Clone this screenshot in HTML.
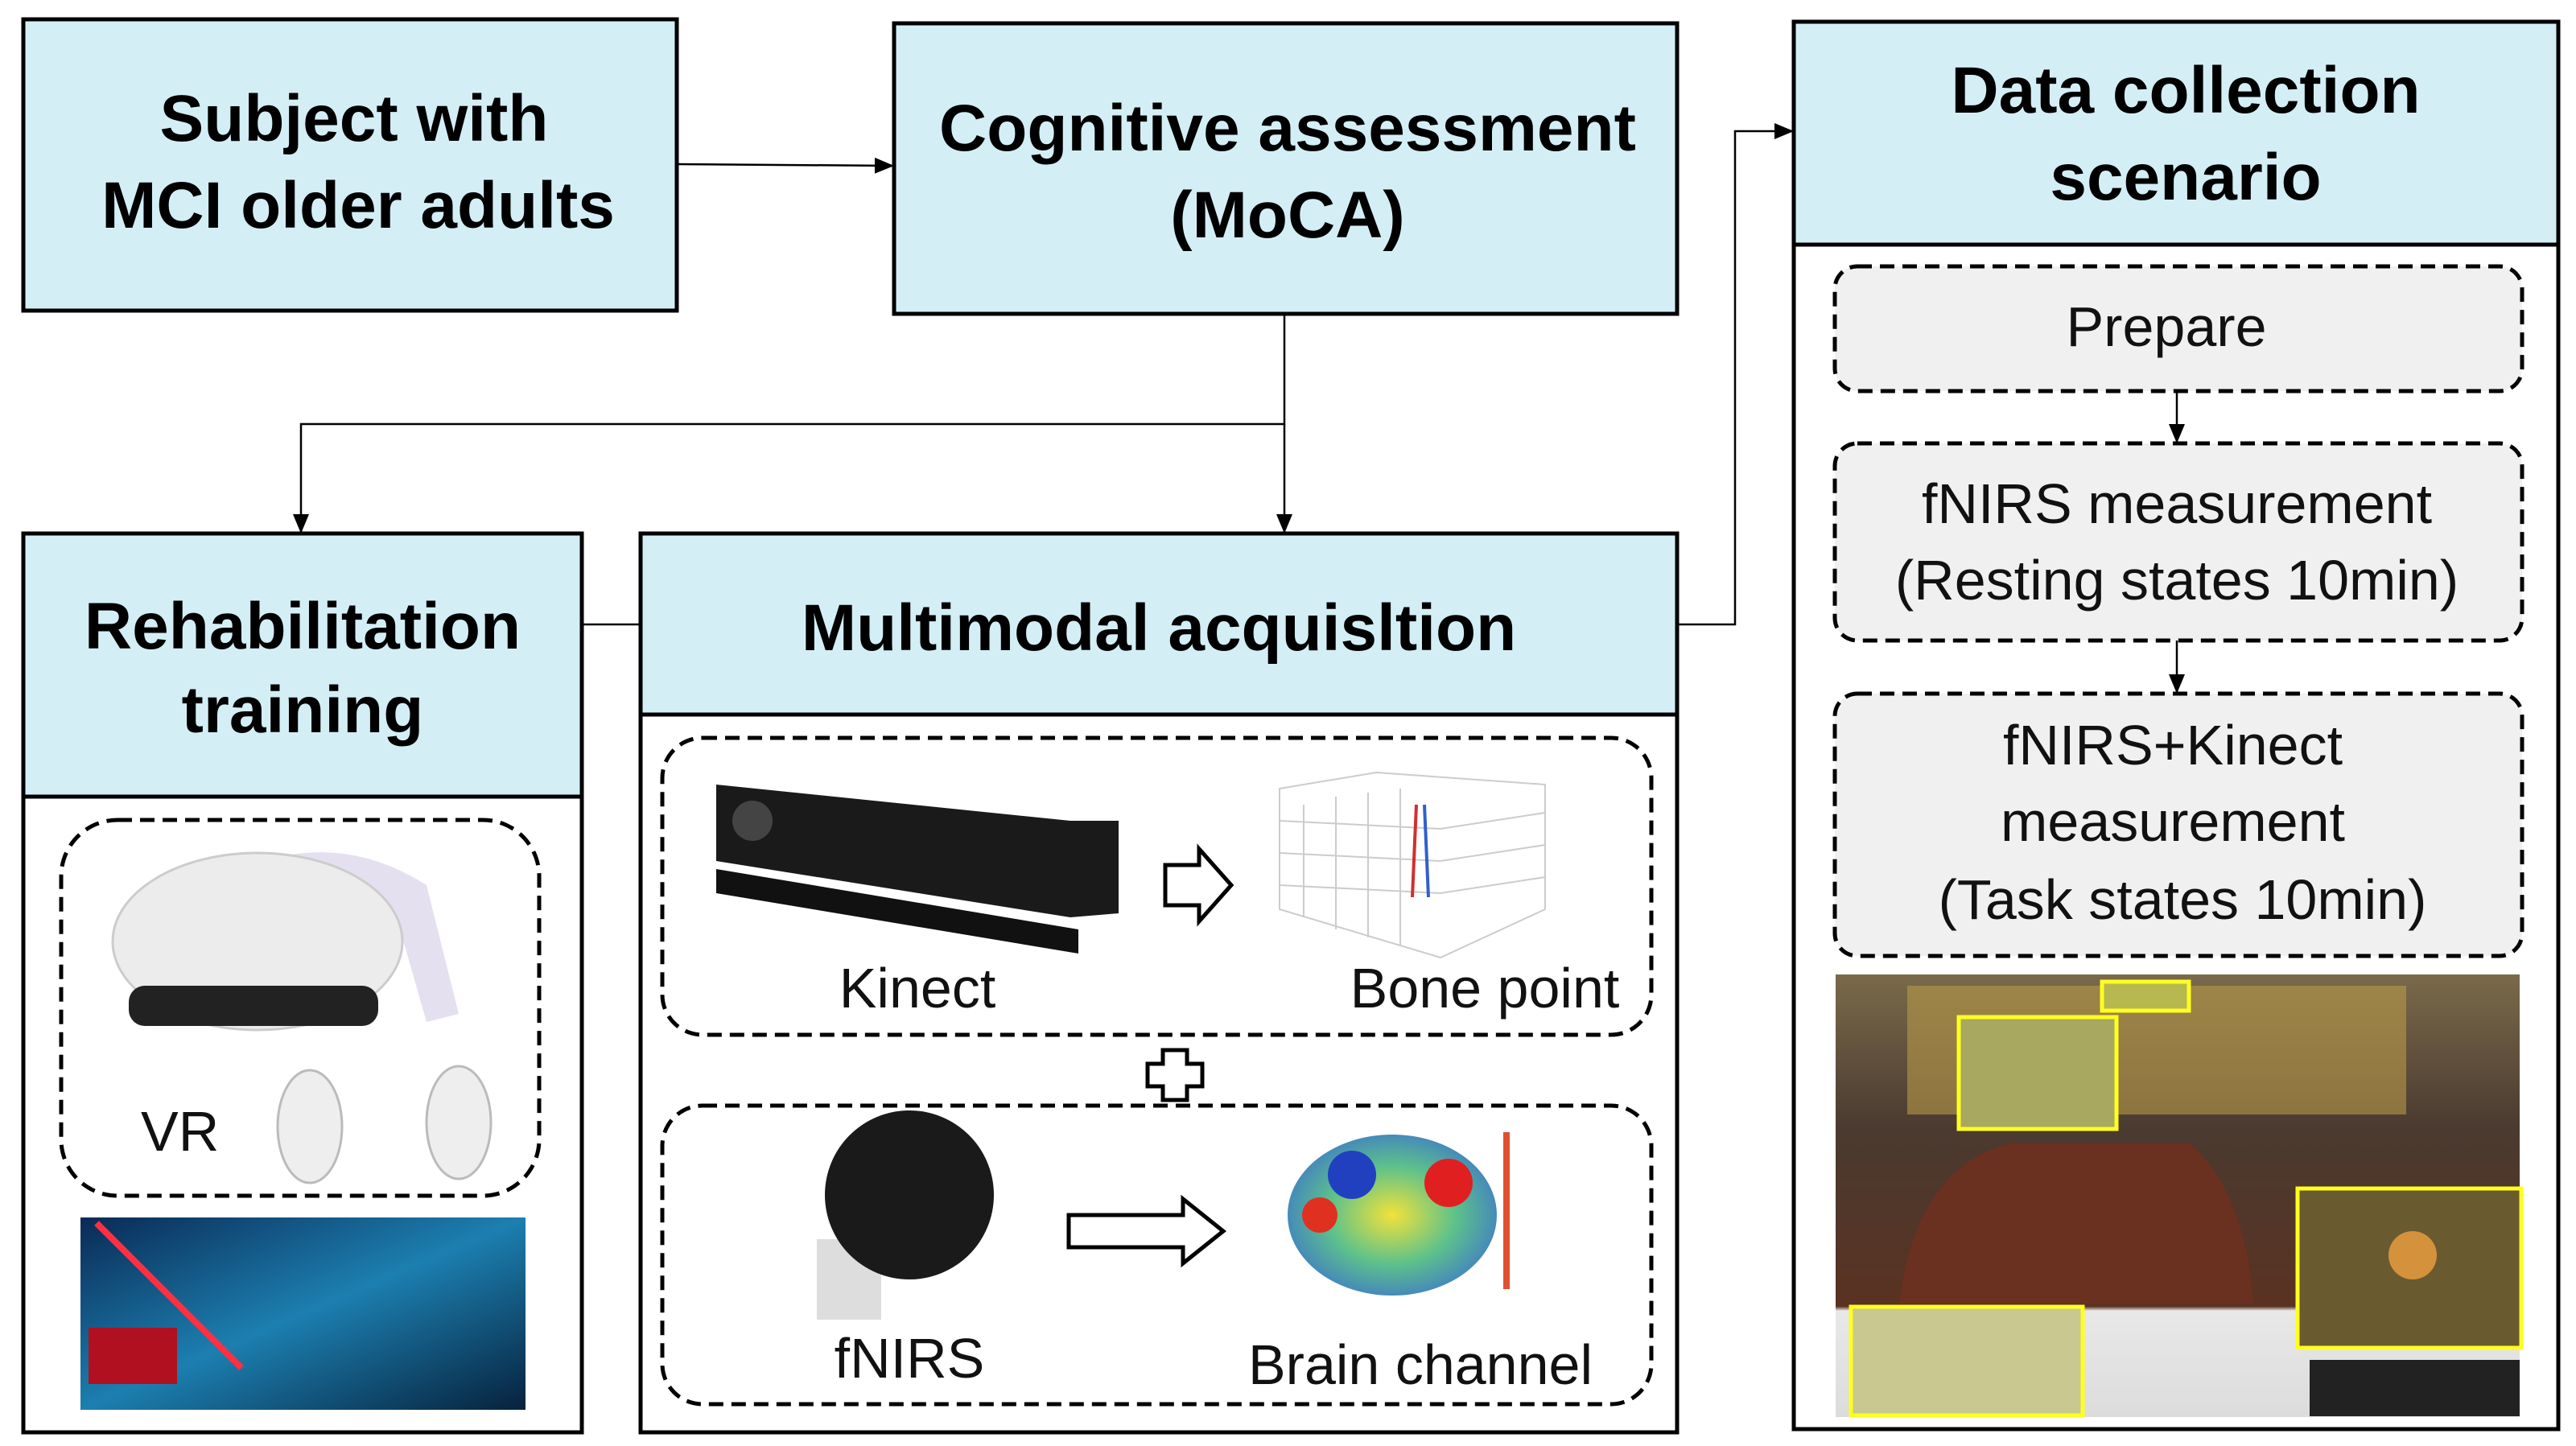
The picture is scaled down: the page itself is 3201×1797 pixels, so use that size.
<!DOCTYPE html>
<html><head><meta charset="utf-8"><style>
html,body{margin:0;padding:0;background:#fff;}
svg{display:block;}
text{font-family:"Liberation Sans","DejaVu Sans",sans-serif;}
.h{font-weight:bold;font-size:82px;fill:#000;}
.t{font-size:70px;fill:#111;}
</style></head><body>
<svg width="3201" height="1797" viewBox="0 0 3201 1797" xmlns="http://www.w3.org/2000/svg">
<defs>
<marker id="ar" markerWidth="24" markerHeight="24" refX="22" refY="12" orient="auto" markerUnits="userSpaceOnUse" viewBox="0 0 24 24"><path d="M0,2 L24,12 L0,22 z" fill="#000"/></marker>
<radialGradient id="br" cx="50%" cy="50%" r="60%"><stop offset="0" stop-color="#f2e23a"/><stop offset="0.5" stop-color="#5ec28a"/><stop offset="1" stop-color="#3a6fd0"/></radialGradient>
<linearGradient id="gm" x1="0" y1="0" x2="1" y2="1"><stop offset="0" stop-color="#0a2a55"/><stop offset="0.5" stop-color="#1c7fb0"/><stop offset="1" stop-color="#07223d"/></linearGradient>
<linearGradient id="ph" x1="0" y1="0" x2="0" y2="1"><stop offset="0" stop-color="#7a6a4a"/><stop offset="0.35" stop-color="#4a3a30"/><stop offset="0.75" stop-color="#5a3222"/><stop offset="0.76" stop-color="#e8e8e8"/><stop offset="1" stop-color="#dcdcdc"/></linearGradient>
</defs>

<rect x="29" y="24" width="812" height="362" fill="#d4eef6" stroke="#000" stroke-width="5"/>
<text class="h" x="440" y="175" text-anchor="middle">Subject with</text>
<text class="h" x="445" y="283" text-anchor="middle">MCI older adults</text>

<rect x="1111" y="29" width="973" height="361" fill="#d4eef6" stroke="#000" stroke-width="5"/>
<text class="h" x="1600" y="187" text-anchor="middle">Cognitive assessment</text>
<text class="h" x="1600" y="295" text-anchor="middle">(MoCA)</text>

<line x1="841" y1="204" x2="1109" y2="206" stroke="#000" stroke-width="2.5" marker-end="url(#ar)"/>
<polyline points="1596,390 1596,527 374,527 374,661" fill="none" stroke="#000" stroke-width="2.5" marker-end="url(#ar)"/>
<line x1="1596" y1="527" x2="1596" y2="661" stroke="#000" stroke-width="2.5" marker-end="url(#ar)"/>
<line x1="723" y1="776" x2="796" y2="776" stroke="#000" stroke-width="2.5"/>
<polyline points="2084,776 2156,776 2156,163 2227,163" fill="none" stroke="#000" stroke-width="2.5" marker-end="url(#ar)"/>

<rect x="2229" y="27" width="950" height="1749" fill="#fff" stroke="#000" stroke-width="5"/>
<rect x="2229" y="27" width="950" height="277" fill="#d4eef6" stroke="#000" stroke-width="5"/>
<text class="h" x="2716" y="140" text-anchor="middle">Data collection</text>
<text class="h" x="2716" y="248" text-anchor="middle">scenario</text>

<rect x="2280" y="331" width="854" height="155" rx="28" fill="#f0f0f0" stroke="#000" stroke-width="5" stroke-dasharray="18,10"/>
<text class="t" x="2692" y="430" text-anchor="middle">Prepare</text>
<line x1="2705" y1="486" x2="2705" y2="549" stroke="#000" stroke-width="2.5" marker-end="url(#ar)"/>
<rect x="2280" y="551" width="854" height="245" rx="28" fill="#f0f0f0" stroke="#000" stroke-width="5" stroke-dasharray="18,10"/>
<text class="t" x="2705" y="650" text-anchor="middle">fNIRS measurement</text>
<text class="t" x="2705" y="745" text-anchor="middle">(Resting states 10min)</text>
<line x1="2705" y1="796" x2="2705" y2="860" stroke="#000" stroke-width="2.5" marker-end="url(#ar)"/>
<rect x="2280" y="862" width="854" height="326" rx="28" fill="#f0f0f0" stroke="#000" stroke-width="5" stroke-dasharray="18,10"/>
<text class="t" x="2700" y="950" text-anchor="middle">fNIRS+Kinect</text>
<text class="t" x="2700" y="1045" text-anchor="middle">measurement</text>
<text class="t" x="2712" y="1142" text-anchor="middle">(Task states 10min)</text>

<rect x="2281" y="1211" width="850" height="550" fill="url(#ph)"/>
<rect x="2370" y="1225" width="620" height="160" fill="#b89a4a" opacity="0.6"/>
<path d="M2360,1620 Q2380,1450 2500,1420 L2720,1420 Q2790,1480 2800,1620 Z" fill="#6a3020"/>
<rect x="2612" y="1220" width="108" height="36" fill="#b8b850" stroke="#ffff20" stroke-width="5"/>
<rect x="2434" y="1264" width="196" height="139" fill="#a8a860" stroke="#ffff20" stroke-width="5"/>
<rect x="2855" y="1477" width="278" height="198" fill="#6a5a30" stroke="#ffff20" stroke-width="5"/>
<circle cx="2998" cy="1560" r="30" fill="#f0a040" opacity="0.8"/>
<rect x="2870" y="1690" width="261" height="70" fill="#222"/>
<rect x="2300" y="1624" width="288" height="135" fill="#c8c890" stroke="#ffff20" stroke-width="5"/>

<rect x="29" y="663" width="694" height="1117" fill="#fff" stroke="#000" stroke-width="5"/>
<rect x="29" y="663" width="694" height="327" fill="#d4eef6" stroke="#000" stroke-width="5"/>
<text class="h" x="376" y="806" text-anchor="middle">Rehabilitation</text>
<text class="h" x="376" y="910" text-anchor="middle">training</text>
<rect x="76" y="1019" width="594" height="467" rx="70" fill="#fff" stroke="#000" stroke-width="5" stroke-dasharray="18,10"/>
<path d="M300,1080 Q420,1030 530,1100 L570,1260 L530,1270 L490,1130 Q420,1090 320,1110 Z" fill="#e4e0ef"/>
<ellipse cx="320" cy="1170" rx="180" ry="110" fill="#ececec" stroke="#ccc" stroke-width="3"/>
<rect x="160" y="1225" width="310" height="50" rx="20" fill="#222"/>
<ellipse cx="385" cy="1400" rx="40" ry="70" fill="#eee" stroke="#bbb" stroke-width="3"/>
<ellipse cx="570" cy="1395" rx="40" ry="70" fill="#eee" stroke="#bbb" stroke-width="3"/>
<text class="t" x="175" y="1430">VR</text>
<rect x="100" y="1513" width="553" height="239" fill="url(#gm)"/>
<rect x="110" y="1650" width="110" height="70" fill="#b01020"/>
<line x1="120" y1="1520" x2="300" y2="1700" stroke="#ff3040" stroke-width="8"/>

<rect x="796" y="663" width="1288" height="1117" fill="#fff" stroke="#000" stroke-width="5"/>
<rect x="796" y="663" width="1288" height="225" fill="#d4eef6" stroke="#000" stroke-width="5"/>
<text class="h" x="1440" y="808" text-anchor="middle">Multimodal acquisltion</text>

<rect x="823" y="917" width="1229" height="369" rx="50" fill="#fff" stroke="#000" stroke-width="5" stroke-dasharray="18,10"/>
<path d="M890,975 L1330,1020 L1390,1020 L1390,1135 L1330,1140 L890,1070 Z" fill="#1a1a1a"/>
<circle cx="935" cy="1020" r="25" fill="#444"/>
<path d="M890,1080 L1340,1155 L1340,1185 L890,1110 Z" fill="#111"/>
<path d="M1448,1075 L1490,1075 L1490,1055 L1530,1100 L1490,1145 L1490,1125 L1448,1125 Z" fill="#fff" stroke="#000" stroke-width="5"/>
<g stroke="#ccc" stroke-width="2" fill="none">
<path d="M1590,980 L1710,960 L1920,975 L1920,1130 L1790,1190 L1590,1130 Z"/>
<path d="M1620,1000 L1620,1140 M1660,990 L1660,1155 M1700,985 L1700,1165 M1740,980 L1740,1175 M1590,1020 L1790,1030 L1920,1010 M1590,1060 L1790,1070 L1920,1050 M1590,1100 L1790,1110 L1920,1090"/>
</g>
<line x1="1760" y1="1000" x2="1755" y2="1115" stroke="#d03030" stroke-width="4"/>
<line x1="1770" y1="1000" x2="1775" y2="1115" stroke="#3060d0" stroke-width="4"/>
<text class="t" x="1140" y="1252" text-anchor="middle">Kinect</text>
<text class="t" x="1845" y="1252" text-anchor="middle">Bone point</text>

<path d="M1445,1305 L1475,1305 L1475,1322 L1494,1322 L1494,1350 L1475,1350 L1475,1367 L1445,1367 L1445,1350 L1426,1350 L1426,1322 L1445,1322 Z" fill="#fff" stroke="#000" stroke-width="5"/>

<rect x="823" y="1374" width="1229" height="371" rx="50" fill="#fff" stroke="#000" stroke-width="5" stroke-dasharray="18,10"/>
<rect x="1015" y="1540" width="80" height="100" fill="#ddd"/>
<ellipse cx="1130" cy="1485" rx="105" ry="105" fill="#1a1a1a"/>
<path d="M1328,1510 L1470,1510 L1470,1490 L1520,1530 L1470,1570 L1470,1550 L1328,1550 Z" fill="#fff" stroke="#000" stroke-width="5"/>
<ellipse cx="1730" cy="1510" rx="130" ry="100" fill="url(#br)"/>
<circle cx="1680" cy="1460" r="30" fill="#2040c0"/>
<circle cx="1800" cy="1470" r="30" fill="#e02020"/>
<circle cx="1640" cy="1510" r="22" fill="#e03020"/>
<rect x="1868" y="1407" width="8" height="195" fill="#e05030"/>
<text class="t" x="1130" y="1712" text-anchor="middle">fNIRS</text>
<text class="t" x="1765" y="1720" text-anchor="middle">Brain channel</text>
</svg>
</body></html>
